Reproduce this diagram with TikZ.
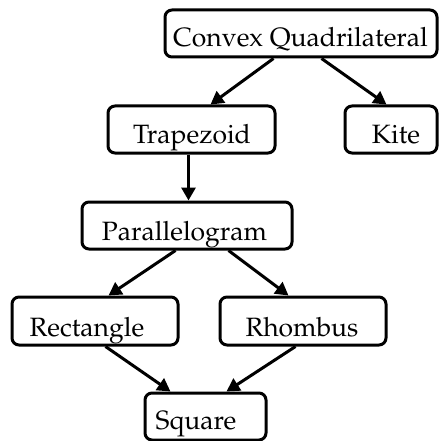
\documentclass[tikz,border=0pt]{standalone}
\usepackage[T1]{fontenc}
\usepackage{mathpazo}
\usetikzlibrary{arrows.meta,calc}
\begin{document}
\begin{tikzpicture}[x=1pt,y=-1pt,
  box/.style={draw=black,line width=3pt,rounded corners=7pt,inner sep=0pt,fill=white},
  lbl/.style={anchor=base,inner sep=0pt,font=\fontsize{26.5}{31}\selectfont},
  conn/.style={line width=3pt,-{Triangle[length=13pt,width=14pt]}}]
\useasboundingbox (0,0) rectangle (439,441);
\node[box,minimum width=272pt,minimum height=47pt] (cq) at (301,33.5) {};
\node[box,minimum width=167pt,minimum height=47pt] (tr) at (191.5,129.5) {};
\node[box,minimum width=92pt,minimum height=47pt] (ki) at (391,129.5) {};
\node[box,minimum width=210pt,minimum height=47pt] (pa) at (187,225.5) {};
\node[box,minimum width=166pt,minimum height=48pt] (re) at (95,321) {};
\node[box,minimum width=166pt,minimum height=48pt] (rh) at (303,321) {};
\node[box,minimum width=121pt,minimum height=47pt] (sq) at (205.5,416.5) {};
\node[lbl] (tcq) at (300.5,47) {Convex Quadrilateral};
\node[lbl] (ttr) at (192,143) {Trapezoid};
\node[lbl] (tki) at (396,143) {Kite};
\node[lbl] (tpa) at (184.5,240) {Parallelogram};
\node[lbl] (tre) at (87,336) {Rectangle};
\node[lbl] (trh) at (302,336) {Rhombus};
\node[lbl] (tsq) at (196,429) {Square};
\draw[conn] ([xshift=110pt]cq.south west) -- ([xshift=104pt]tr.north west);
\draw[conn] ([xshift=158pt]cq.south west) -- ([xshift=43pt]ki.north west);
\draw[conn] ([xshift=82pt]tr.south west) -- ([xshift=108pt]pa.north west);
\draw[conn] ([xshift=95pt]pa.south west) -- ([xshift=98pt]re.north west);
\draw[conn] ([xshift=148pt]pa.south west) -- ([xshift=70pt]rh.north west);
\draw[conn] ([xshift=95pt]re.south west) -- ([xshift=27pt]sq.north west);
\draw[conn] ([xshift=77pt]rh.south west) -- ([xshift=83pt]sq.north west);
\end{tikzpicture}
\end{document}
